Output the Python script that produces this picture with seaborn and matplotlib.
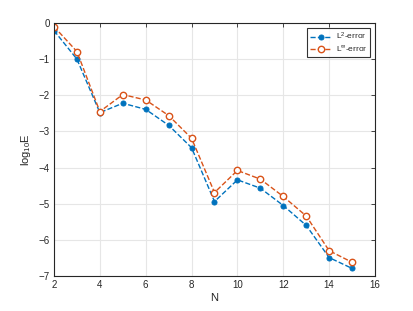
import numpy as np
import pandas as pd
import seaborn as sns
import matplotlib
matplotlib.use('Agg')
import matplotlib.pyplot as plt

# Values.
n_values = [2, 3, 4, 5, 6, 7, 8, 9, 10, 11, 12, 13, 14, 15]
l2_error = [-0.21, -1.00, -2.48, -2.22, -2.39, -2.83, -3.45, -4.94,
            -4.34, -4.57, -5.05, -5.60, -6.49, -6.79]
linf_error = [-0.10, -0.79, -2.45, -1.98, -2.13, -2.56, -3.19, -4.69,
              -4.08, -4.32, -4.80, -5.34, -6.30, -6.62]
x_ticks = [2, 4, 6, 8, 10, 12, 14, 16]
y_ticks = [0, -1, -2, -3, -4, -5, -6, -7]

df = pd.DataFrame({'N': n_values, 'L2': l2_error, 'Linf': linf_error})

sns.set_theme(style='white')
plt.rcParams['font.family'] = ['Liberation Sans', 'DejaVu Sans']
plt.rcParams['mathtext.fontset'] = 'custom'
plt.rcParams['mathtext.rm'] = 'Liberation Sans'
plt.rcParams['mathtext.it'] = 'Liberation Sans'

fig = plt.figure(figsize=(4.14, 3.11), dpi=100)
ax = fig.add_axes([54 / 414, 1 - 276 / 311, (375 - 54) / 414, (276 - 23) / 311])

blue = '#0072BD'
orange = '#D95319'
sns.lineplot(data=df, x='N', y='L2', ax=ax, color=blue, linestyle='--',
             dashes=(5, 3), linewidth=1.0, marker='o', markersize=3.6,
             markeredgecolor=blue, markerfacecolor=blue, label='L$^2$-error')
sns.lineplot(data=df, x='N', y='Linf', ax=ax, color=orange, linestyle='--',
             dashes=(5, 3), linewidth=1.0, marker='o', markersize=4.6,
             markeredgecolor=orange, markerfacecolor='white',
             markeredgewidth=1.0, label='L$^\\infty$-error')

ax.set_xlim(2, 16)
ax.set_ylim(-7, 0)
ax.set_xticks(x_ticks)
ax.set_yticks(y_ticks)
ax.grid(True, color='#e6e6e6', linewidth=0.8)
ax.set_axisbelow(True)
for s in ax.spines.values():
    s.set_color('#262626')
    s.set_linewidth(0.8)
ax.tick_params(direction='in', length=3, width=0.6, colors='#262626',
               labelsize=7, top=True, right=True, pad=3)
ax.set_xlabel('N', fontsize=8, color='#262626', labelpad=2)
ax.set_ylabel('log$_{10}$E', fontsize=8, color='#262626', labelpad=4)

leg = ax.legend(loc='upper right', fontsize=6, frameon=True, fancybox=False,
                edgecolor='black', borderpad=0.35, handlelength=2.6,
                handletextpad=0.5, labelspacing=0.25, borderaxespad=0.6)
leg.get_frame().set_linewidth(0.8)

fig.savefig('out.png', dpi=100)
